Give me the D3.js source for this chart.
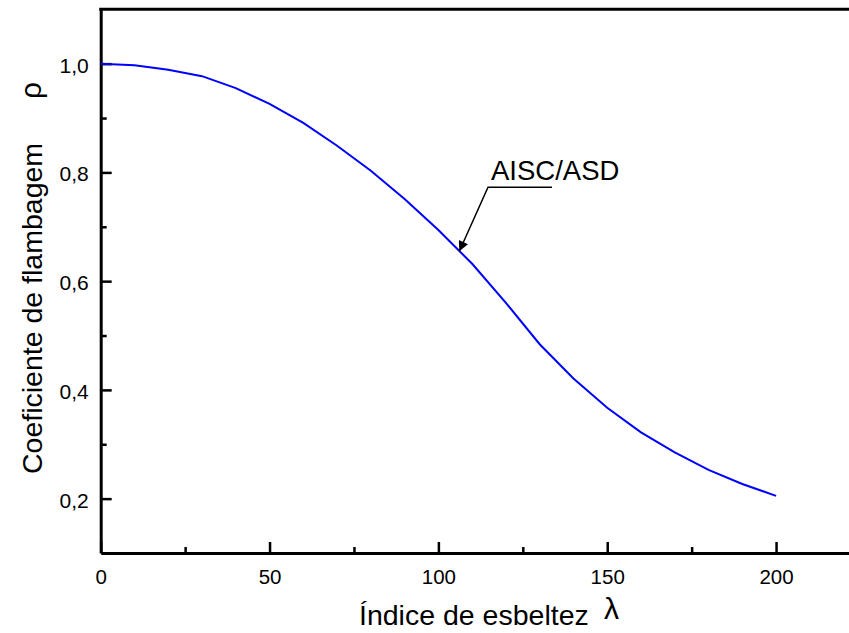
<!DOCTYPE html>
<html>
<head>
<meta charset="utf-8">
<script src="https://cdn.jsdelivr.net/npm/d3@7"></script>
<style>
  html, body { margin: 0; padding: 0; background: #fff; }
  svg { display: block; }
  text { font-family: "Liberation Sans", Arial, sans-serif; fill: #000; }
</style>
</head>
<body>
<svg id="chart" width="849" height="633"></svg>
<script>
// Slenderness index (λ) and buckling coefficient (ρ), AISC/ASD curve
const lambda = [0, 10, 20, 30, 40, 50, 60, 70, 80, 90, 100, 110, 120, 130, 140, 150, 160, 170, 180, 190, 200];
const rho = [1.0, 0.997, 0.989, 0.977, 0.955, 0.926, 0.891, 0.849, 0.803, 0.751, 0.694, 0.632, 0.560, 0.484, 0.421, 0.367, 0.322, 0.285, 0.253, 0.227, 0.205];

const xMajor = [0, 50, 100, 150, 200];
const xMinor = [25, 75, 125, 175];
const yMajor = [0.2, 0.4, 0.6, 0.8, 1.0];
const yMinor = [0.3, 0.5, 0.7, 0.9];
const yTickLabels = ["0,2", "0,4", "0,6", "0,8", "1,0"];

const curveLabel = "AISC/ASD";
const xTitle = "Índice de esbeltez";
const yTitle = "Coeficiente de flambagem";

const svg = d3.select("#chart");
const plotLeft = 100.7, plotRight = 849, plotTop = 9.3, plotBottom = 553;

const x = d3.scaleLinear().domain([0, 221.6]).range([plotLeft, plotRight]);
const y = d3.scaleLinear().domain([0.1, 1.1]).range([plotBottom, plotTop]);

// Minor ticks
svg.append("g")
  .attr("transform", `translate(0,${plotBottom})`)
  .call(d3.axisBottom(x).tickValues(xMinor).tickSize(-6).tickFormat(""))
  .call(g => g.select(".domain").remove())
  .call(g => g.selectAll("line").attr("stroke-width", 2.5));
svg.append("g")
  .attr("transform", `translate(${plotLeft},0)`)
  .call(d3.axisLeft(y).tickValues(yMinor).tickSize(-6).tickFormat(""))
  .call(g => g.select(".domain").remove())
  .call(g => g.selectAll("line").attr("stroke-width", 2.5));

// Major ticks and labels
svg.append("g")
  .attr("transform", `translate(0,${plotBottom})`)
  .call(d3.axisBottom(x).tickValues(xMajor).tickSize(-11).tickSizeOuter(0).tickPadding(16).tickFormat(d3.format("d")))
  .call(g => g.select(".domain").attr("stroke-width", 3))
  .call(g => g.selectAll("line").attr("stroke-width", 2.5))
  .call(g => g.selectAll("text").attr("font-size", 20.5).attr("font-family", "Liberation Sans, Arial, sans-serif").attr("fill", "#000"));

svg.append("g")
  .attr("transform", `translate(${plotLeft},0)`)
  .call(d3.axisLeft(y).tickValues(yMajor).tickSize(-11).tickSizeOuter(0).tickPadding(12)
    .tickFormat((d, i) => yTickLabels[i]))
  .call(g => g.select(".domain").attr("stroke-width", 3))
  .call(g => g.selectAll("line").attr("stroke-width", 2.5))
  .call(g => g.selectAll("text").attr("font-size", 21).attr("dy", "0.4em").attr("font-family", "Liberation Sans, Arial, sans-serif").attr("fill", "#000"));

// Top frame line
svg.append("line")
  .attr("x1", plotLeft - 1.5).attr("x2", plotRight)
  .attr("y1", plotTop).attr("y2", plotTop)
  .attr("stroke", "#000").attr("stroke-width", 3);

// Curve
svg.append("path")
  .datum(lambda.map((l, i) => [l, rho[i]]))
  .attr("fill", "none")
  .attr("stroke", "#0000ff")
  .attr("stroke-width", 2)
  .attr("d", d3.line().x(d => x(d[0])).y(d => y(d[1])));

// Curve annotation with leader arrow
const defs = svg.append("defs");
defs.append("marker")
  .attr("id", "arrowhead")
  .attr("viewBox", "0 0 10 10")
  .attr("refX", 10).attr("refY", 5)
  .attr("markerUnits", "userSpaceOnUse")
  .attr("markerWidth", 16).attr("markerHeight", 10)
  .attr("orient", "auto")
  .append("path")
  .attr("d", "M0,0 L10,5 L0,10 Z")
  .attr("fill", "#000");

const tipX = x(106.2);
const tipY = y(0.655);
svg.append("path")
  .attr("d", `M552,187.3 L488,187.3 L${tipX},${tipY}`)
  .attr("fill", "none")
  .attr("stroke", "#000")
  .attr("stroke-width", 1.5)
  .attr("marker-end", "url(#arrowhead)");

svg.append("text")
  .attr("x", 491).attr("y", 180)
  .attr("font-size", 27.5)
  .text(curveLabel);

// Axis titles
svg.append("text")
  .attr("x", 359).attr("y", 625)
  .attr("font-size", 28.5)
  .text(xTitle);
svg.append("text")
  .attr("x", 604).attr("y", 619)
  .attr("font-size", 30)
  .attr("font-family", "Liberation Serif, Times New Roman, serif")
  .text("λ");

svg.append("text")
  .attr("transform", "translate(42,474) rotate(-90)")
  .attr("font-size", 28.5)
  .text(yTitle);
svg.append("text")
  .attr("transform", "translate(41,99) rotate(-90)")
  .attr("font-size", 30)
  .attr("font-family", "Liberation Serif, Times New Roman, serif")
  .text("ρ");
</script>
</body>
</html>
